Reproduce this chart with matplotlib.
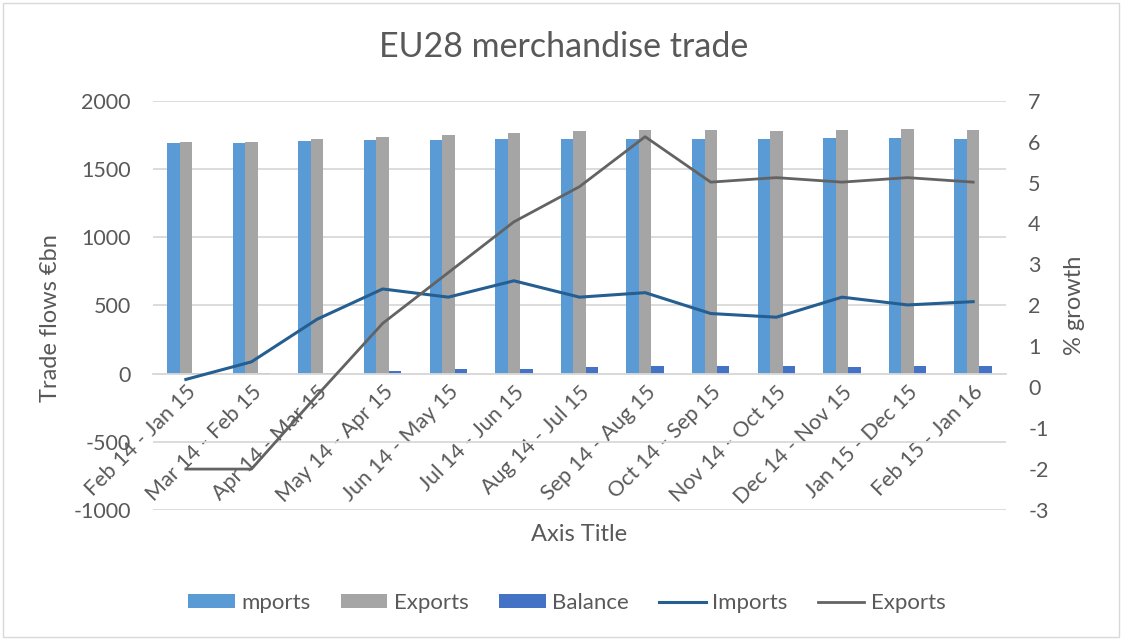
import matplotlib.pyplot as plt
from matplotlib.patches import Rectangle
import numpy as np

plt.rcParams['font.family'] = ['Lato', 'DejaVu Sans']
plt.rcParams['axes.unicode_minus'] = False

periods = ['Feb 14 - Jan 15', 'Mar 14 - Feb 15', 'Apr 14 - Mar 15', 'May 14 - Apr 15',
           'Jun 14 - May 15', 'Jul 14 - Jun 15', 'Aug 14 - Jul 15', 'Sep 14 - Aug 15',
           'Oct 14 - Sep 15', 'Nov 14 - Oct 15', 'Dec 14 - Nov 15', 'Jan 15 - Dec 15',
           'Feb 15 - Jan 16']

# trade flows, EUR bn (left axis)
imports = [1687, 1692, 1707, 1714, 1714, 1721, 1721, 1721, 1721, 1721, 1729, 1729, 1721]
exports = [1699, 1699, 1721, 1736, 1746, 1761, 1775, 1783, 1783, 1775, 1783, 1790, 1783]
balance = [5, 5, 5, 18, 30, 37, 51, 59, 59, 59, 51, 59, 59]

# growth, % (right axis)
imports_growth = [0.19, 0.62, 1.66, 2.40, 2.20, 2.60, 2.20, 2.31, 1.80, 1.71, 2.20, 2.01, 2.09]
exports_growth = [-2.0, -2.0, -0.2, 1.56, 2.80, 4.04, 4.90, 6.12, 5.01, 5.12, 5.01, 5.12, 5.01]

text_col = '#595959'
grid_col = '#D9D9D9'

fig = plt.figure(figsize=(11.22, 6.4), dpi=100)
ax = fig.add_axes([0.1364, 0.2031, 0.7602, 0.6396])
ax2 = ax.twinx()

x = np.arange(len(periods))
w = 0.19
b1 = ax.bar(x - w, imports, w, color='#5B9BD5', label='mports')
b2 = ax.bar(x, exports, w, color='#A5A5A5', label='Exports')
b3 = ax.bar(x + w, balance, w, color='#4472C4', label='Balance')

l1, = ax2.plot(x, imports_growth, color='#255E91', lw=2.2, label='Imports')
l2, = ax2.plot(x, exports_growth, color='#636363', lw=2.0, label='Exports')

ax.set_xlim(-0.5, len(periods) - 0.5)
ax.set_ylim(-1000, 2000)
ax.set_yticks(np.arange(-1000, 2001, 500))
ax2.set_ylim(-3, 7)
ax2.set_yticks(np.arange(-3, 8, 1))

ax.set_axisbelow(True)
ax.yaxis.grid(True, color=grid_col, lw=1.3)
for s in ['top', 'left', 'right']:
    ax.spines[s].set_visible(False)
    ax2.spines[s].set_visible(False)
ax2.spines['bottom'].set_visible(False)
ax.spines['bottom'].set_position(('data', 0))
ax.spines['bottom'].set_color(grid_col)
ax.spines['bottom'].set_linewidth(1.3)

ax.set_xticks(x)
ax.set_xticklabels(periods, rotation=45, ha='right', va='top', rotation_mode='anchor')
ax.tick_params(axis='x', length=0, pad=6, labelsize=15.5, labelcolor=text_col)
ax.tick_params(axis='y', length=0, pad=16, labelsize=15.5, labelcolor=text_col)
ax2.tick_params(axis='y', length=0, pad=16, labelsize=15.5, labelcolor=text_col)

ax.set_xlabel('Axis Title', fontsize=17, color=text_col)
ax.xaxis.set_label_coords(0.5, -0.035)
ax.set_ylabel('Trade flows €bn', fontsize=17, color=text_col)
ax.yaxis.set_label_coords(-0.108, 0.47)
ax2.set_ylabel('% growth', fontsize=17, color=text_col)
ax2.yaxis.set_label_coords(1.068, 0.5)

fig.text(0.502, 0.927, 'EU28 merchandise trade', ha='center', va='center',
         fontsize=24.5, color=text_col)

fig.legend([b1, b2, b3, l1, l2], ['mports', 'Exports', 'Balance', 'Imports', 'Exports'],
           loc='center', bbox_to_anchor=(567 / 1122, 1 - 603 / 640), ncol=5,
           frameon=False, fontsize=16, labelcolor=text_col, handlelength=2.1,
           handleheight=0.6, columnspacing=1.35, handletextpad=0.3)

fig.patches.append(Rectangle((0.003, 0.004), 0.994, 0.992, transform=fig.transFigure,
                             fill=False, edgecolor=grid_col, lw=1))

fig.savefig('out.png', dpi=100)
